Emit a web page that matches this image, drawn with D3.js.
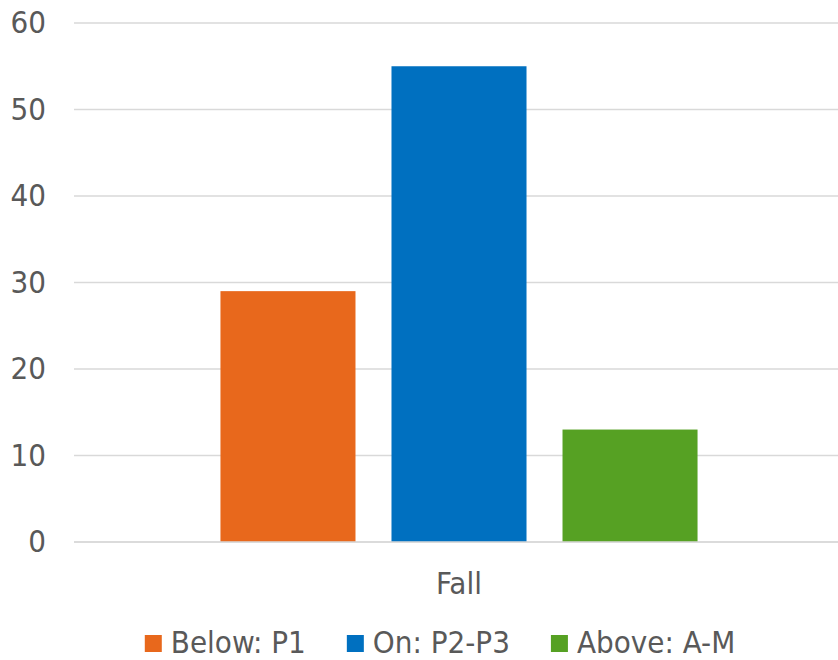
<!DOCTYPE html>
<html>
<head>
<meta charset="utf-8">
<script src="https://cdn.jsdelivr.net/npm/d3@7"></script>
<style>
  html, body { margin: 0; padding: 0; background: #ffffff; }
  svg { display: block; }
  text { font-family: "DejaVu Sans Condensed", "DejaVu Sans", sans-serif; fill: #595959; }
</style>
</head>
<body>
<svg id="chart" width="838" height="660"></svg>
<script>
const categories = ["Fall"];
const seriesNames = ["Below: P1", "On: P2-P3", "Above: A-M"];
const seriesValues = [29, 55, 13];
const seriesColors = ["#E8681C", "#0070C0", "#56A123"];
const yTicks = [0, 10, 20, 30, 40, 50, 60];

const W = 838, H = 660;
const margin = { top: 23, right: -6, bottom: 118, left: 74 };
const svg = d3.select("#chart");
const plotW = W - margin.left - margin.right;
const plotH = H - margin.top - margin.bottom;
const g = svg.append("g").attr("transform", `translate(${margin.left},${margin.top})`);

const y = d3.scaleLinear().domain([0, 60]).range([plotH, 0]);
const x0 = d3.scaleBand().domain(categories).range([0, plotW]).paddingInner(0).paddingOuter(0.307);
const x1 = d3.scaleBand().domain(seriesNames).range([0, x0.bandwidth()]).paddingInner(0.2105).paddingOuter(0);

// gridlines
g.append("g").selectAll("line").data(yTicks).join("line")
  .attr("x1", 0).attr("x2", W - margin.left)
  .attr("y1", d => y(d)).attr("y2", d => y(d))
  .attr("stroke", "#d9d9d9").attr("stroke-width", 1.5);

// y axis labels
const yAxis = d3.axisLeft(y).tickValues(yTicks).tickSize(0).tickPadding(28);
const ya = g.append("g").call(yAxis);
ya.select(".domain").remove();
ya.selectAll("text").attr("font-size", 31).style("font-family", '"DejaVu Sans Condensed", "DejaVu Sans", sans-serif').attr("fill", "#595959");

// bars
const data = categories.map(c => ({ cat: c, vals: seriesNames.map((s, i) => ({ s, v: seriesValues[i], c: seriesColors[i] })) }));
const grp = g.selectAll(".cat").data(data).join("g").attr("transform", d => `translate(${x0(d.cat)},0)`);
grp.selectAll("rect").data(d => d.vals).join("rect")
  .attr("x", d => x1(d.s)).attr("width", x1.bandwidth())
  .attr("y", d => y(d.v)).attr("height", d => y(0) - y(d.v))
  .attr("fill", d => d.c);

// x axis baseline and label
g.append("line").attr("x1", 0).attr("x2", W - margin.left).attr("y1", y(0)).attr("y2", y(0))
  .attr("stroke", "#d9d9d9").attr("stroke-width", 1.5);
const xAxis = d3.axisBottom(x0).tickSize(0).tickPadding(30);
const xa = g.append("g").attr("transform", `translate(0,${plotH})`).call(xAxis);
xa.select(".domain").remove();
xa.selectAll("text").attr("font-size", 31).style("font-family", '"DejaVu Sans Condensed", "DejaVu Sans", sans-serif').attr("fill", "#595959");

// legend
const legend = svg.append("g");
const sw = 17, swGap = 9, itemGap = 41;
const items = [];
seriesNames.forEach((s, i) => {
  const it = legend.append("g");
  it.append("rect").attr("x", 0).attr("y", -18).attr("width", sw).attr("height", sw).attr("fill", seriesColors[i]);
  const t = it.append("text").attr("x", sw + swGap).attr("y", 0).attr("font-size", 31).text(s);
  const w = sw + swGap + t.node().getComputedTextLength();
  items.push({ it, w });
});
const total = d3.sum(items, d => d.w) + itemGap * (items.length - 1);
let start = 440 - total / 2;
items.forEach(d => { d.it.attr("transform", `translate(${start},653)`); start += d.w + itemGap; });
</script>
</body>
</html>
